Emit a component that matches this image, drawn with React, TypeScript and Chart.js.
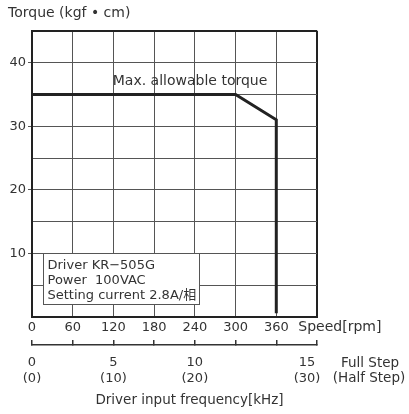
import React, { useEffect, useRef } from 'react';
import { Chart, registerables } from 'chart.js';

Chart.register(...registerables);

// ---- data ----
const speedRpm = [0, 300, 360, 360];
const torqueKgfCm = [35, 35, 31, 0.6];

const speedTicks = [0, 60, 120, 180, 240, 300, 360, 420];
const speedLabels = ['0', '60', '120', '180', '240', '300', '360', ''];
const torqueLabels = [10, 20, 30, 40];

const freqTickSpeeds = [0, 120, 240, 420];
const freqFullStep = ['0', '5', '10', '15'];
const freqHalfStep = ['(0)', '(10)', '(20)', '(30)'];

const noteLines = ['Driver KR\u2212505G', 'Power  100VAC', 'Setting current 2.8A/\u76f8'];
const curveLabel = 'Max. allowable torque';
const yTitle = 'Torque (kgf \u2022 cm)';
const speedTitle = 'Speed[rpm]';
const fullStepTitle = 'Full Step';
const halfStepTitle = '(Half Step)';
const freqTitle = 'Driver input frequency[kHz]';

const FONT = '"DejaVu Sans", "Noto Sans CJK KR", sans-serif';
const TEXT = '#333';

const annotationPlugin = {
  id: 'annotations',
  afterDraw(chart: any) {
    const ctx = chart.ctx;
    const x = chart.scales.x;
    const x2 = chart.scales.x2;
    const y = chart.scales.y;
    const txt = (s: string, px: number, py: number, size: number, align: CanvasTextAlign) => {
      ctx.font = `${size}px ${FONT}`;
      ctx.textAlign = align;
      ctx.textBaseline = 'middle';
      ctx.fillStyle = TEXT;
      ctx.fillText(s, px, py);
    };
    ctx.save();
    // curve label
    txt(curveLabel, x.getPixelForValue(119), y.getPixelForValue(37.1), 14, 'left');

    // note box
    ctx.font = `13px ${FONT}`;
    let maxW = 0;
    noteLines.forEach((l) => { maxW = Math.max(maxW, ctx.measureText(l).width); });
    const bl = Math.round(x.getPixelForValue(16)) + 0.5;
    const bt = Math.round(y.getPixelForValue(10)) + 0.5;
    const bb = Math.round(y.getPixelForValue(2)) + 0.5;
    const br = Math.round(bl + 4 + maxW + 3) + 0.5;
    ctx.fillStyle = '#fff';
    ctx.fillRect(bl, bt, br - bl, bb - bt);
    ctx.strokeStyle = '#555';
    ctx.lineWidth = 1;
    ctx.strokeRect(bl, bt, br - bl, bb - bt);
    noteLines.forEach((l, i) => txt(l, bl + 4, bt + 12.5 + i * 15, 13, 'left'));

    // speed title
    txt(speedTitle, x.getPixelForValue(360) + 22, x.top + 3 + 7.8, 14, 'left');

    // last frequency label, shifted as in the original
    const last = freqTickSpeeds.length - 1;
    const lx = x2.getPixelForValue(freqTickSpeeds[last]) - 10;
    const ly1 = x2.top - 5 + 15.2 + 7.8;
    txt(freqFullStep[last], lx, ly1, 13, 'center');
    txt(freqHalfStep[last], lx, ly1 + 15.6, 13, 'center');
    txt(fullStepTitle, x2.right + 53, ly1, 13.5, 'center');
    txt(halfStepTitle, x2.right + 52, ly1 + 15.6, 13.5, 'center');

    // frequency title
    txt(freqTitle, (x2.left + x2.right) / 2 + 15, x2.bottom - 14, 13.5, 'center');
    ctx.restore();
  },
};

export default function App() {
  const ref = useRef<HTMLCanvasElement | null>(null);

  useEffect(() => {
    if (!ref.current) return;
    const chart = new Chart(ref.current, {
      type: 'scatter',
      data: {
        datasets: [
          {
            label: curveLabel,
            data: speedRpm.map((s, i) => ({ x: s, y: torqueKgfCm[i] })),
            showLine: true,
            borderColor: '#222',
            borderWidth: 3,
            pointRadius: 0,
            borderJoinStyle: 'miter',
            fill: false,
          } as any,
        ],
      },
      options: {
        animation: false,
        responsive: false,
        devicePixelRatio: 1,
        layout: { padding: { left: 8, right: 92, top: 0, bottom: 0 } },
        plugins: {
          legend: { display: false },
          tooltip: { enabled: false },
          title: {
            display: true,
            text: yTitle,
            align: 'start',
            color: TEXT,
            font: { family: FONT, size: 14, weight: 'normal' },
            padding: { top: 5, bottom: 9 },
          },
        },
        scales: {
          x: {
            type: 'linear',
            position: 'bottom',
            min: 0,
            max: 420,
            afterBuildTicks: (s: any) => {
              s.ticks = speedTicks.map((v) => ({ value: v }));
            },
            afterFit: (s: any) => {
              s.height = 28;
            },
            ticks: {
              autoSkip: false,
              maxRotation: 0,
              padding: 3,
              color: TEXT,
              font: { family: FONT, size: 13 },
              callback: (_v: any, i: number) => speedLabels[i],
            },
            grid: {
              drawTicks: false,
              color: (c: any) => (c.tick && c.tick.value === 420 ? '#222' : '#555'),
              lineWidth: (c: any) => (c.tick && c.tick.value === 420 ? 2 : 1),
            },
            border: { display: true, color: '#222', width: 2 },
          },
          x2: {
            type: 'linear',
            position: 'bottom',
            min: 0,
            max: 420,
            afterBuildTicks: (s: any) => {
              s.ticks = speedTicks.map((v) => ({ value: v }));
            },
            afterFit: (s: any) => {
              s.height = 69;
            },
            ticks: {
              autoSkip: false,
              maxRotation: 0,
              padding: 15.2,
              color: TEXT,
              font: { family: FONT, size: 13 },
              callback: (v: any) => {
                const k = freqTickSpeeds.indexOf(v);
                if (k < 0 || k === freqTickSpeeds.length - 1) return '';
                return [freqFullStep[k], freqHalfStep[k]];
              },
            },
            grid: {
              display: true,
              drawOnChartArea: false,
              drawTicks: true,
              tickLength: -5,
              color: '#333',
              lineWidth: 1.5,
            },
            border: { display: true, color: '#333', width: 1.5 },
          },
          y: {
            type: 'linear',
            min: 0,
            max: 45,
            afterBuildTicks: (s: any) => {
              const t = [];
              for (let v = 0; v <= 45; v += 5) t.push({ value: v });
              s.ticks = t;
            },
            afterFit: (s: any) => {
              s.width = 24;
            },
            ticks: {
              autoSkip: false,
              padding: 2,
              color: TEXT,
              font: { family: FONT, size: 13 },
              callback: (v: any) => (torqueLabels.includes(v) ? String(v) : ''),
            },
            grid: {
              tickLength: 4,
              color: (c: any) => (c.tick && c.tick.value === 45 ? '#222' : '#555'),
              tickColor: (c: any) => (c.tick && torqueLabels.includes(c.tick.value) ? '#555' : 'rgba(0,0,0,0)'),
              lineWidth: (c: any) => (c.tick && c.tick.value === 45 ? 2 : 1),
            },
            border: { display: true, color: '#222', width: 2 },
          },
        },
      },
      plugins: [annotationPlugin],
    });
    return () => chart.destroy();
  }, []);

  return (
    <div style={{ position: 'absolute', left: 0, top: 0, width: 409, height: 414, background: '#fff' }}>
      <canvas ref={ref} width={409} height={414} style={{ display: 'block' }} />
    </div>
  );
}
